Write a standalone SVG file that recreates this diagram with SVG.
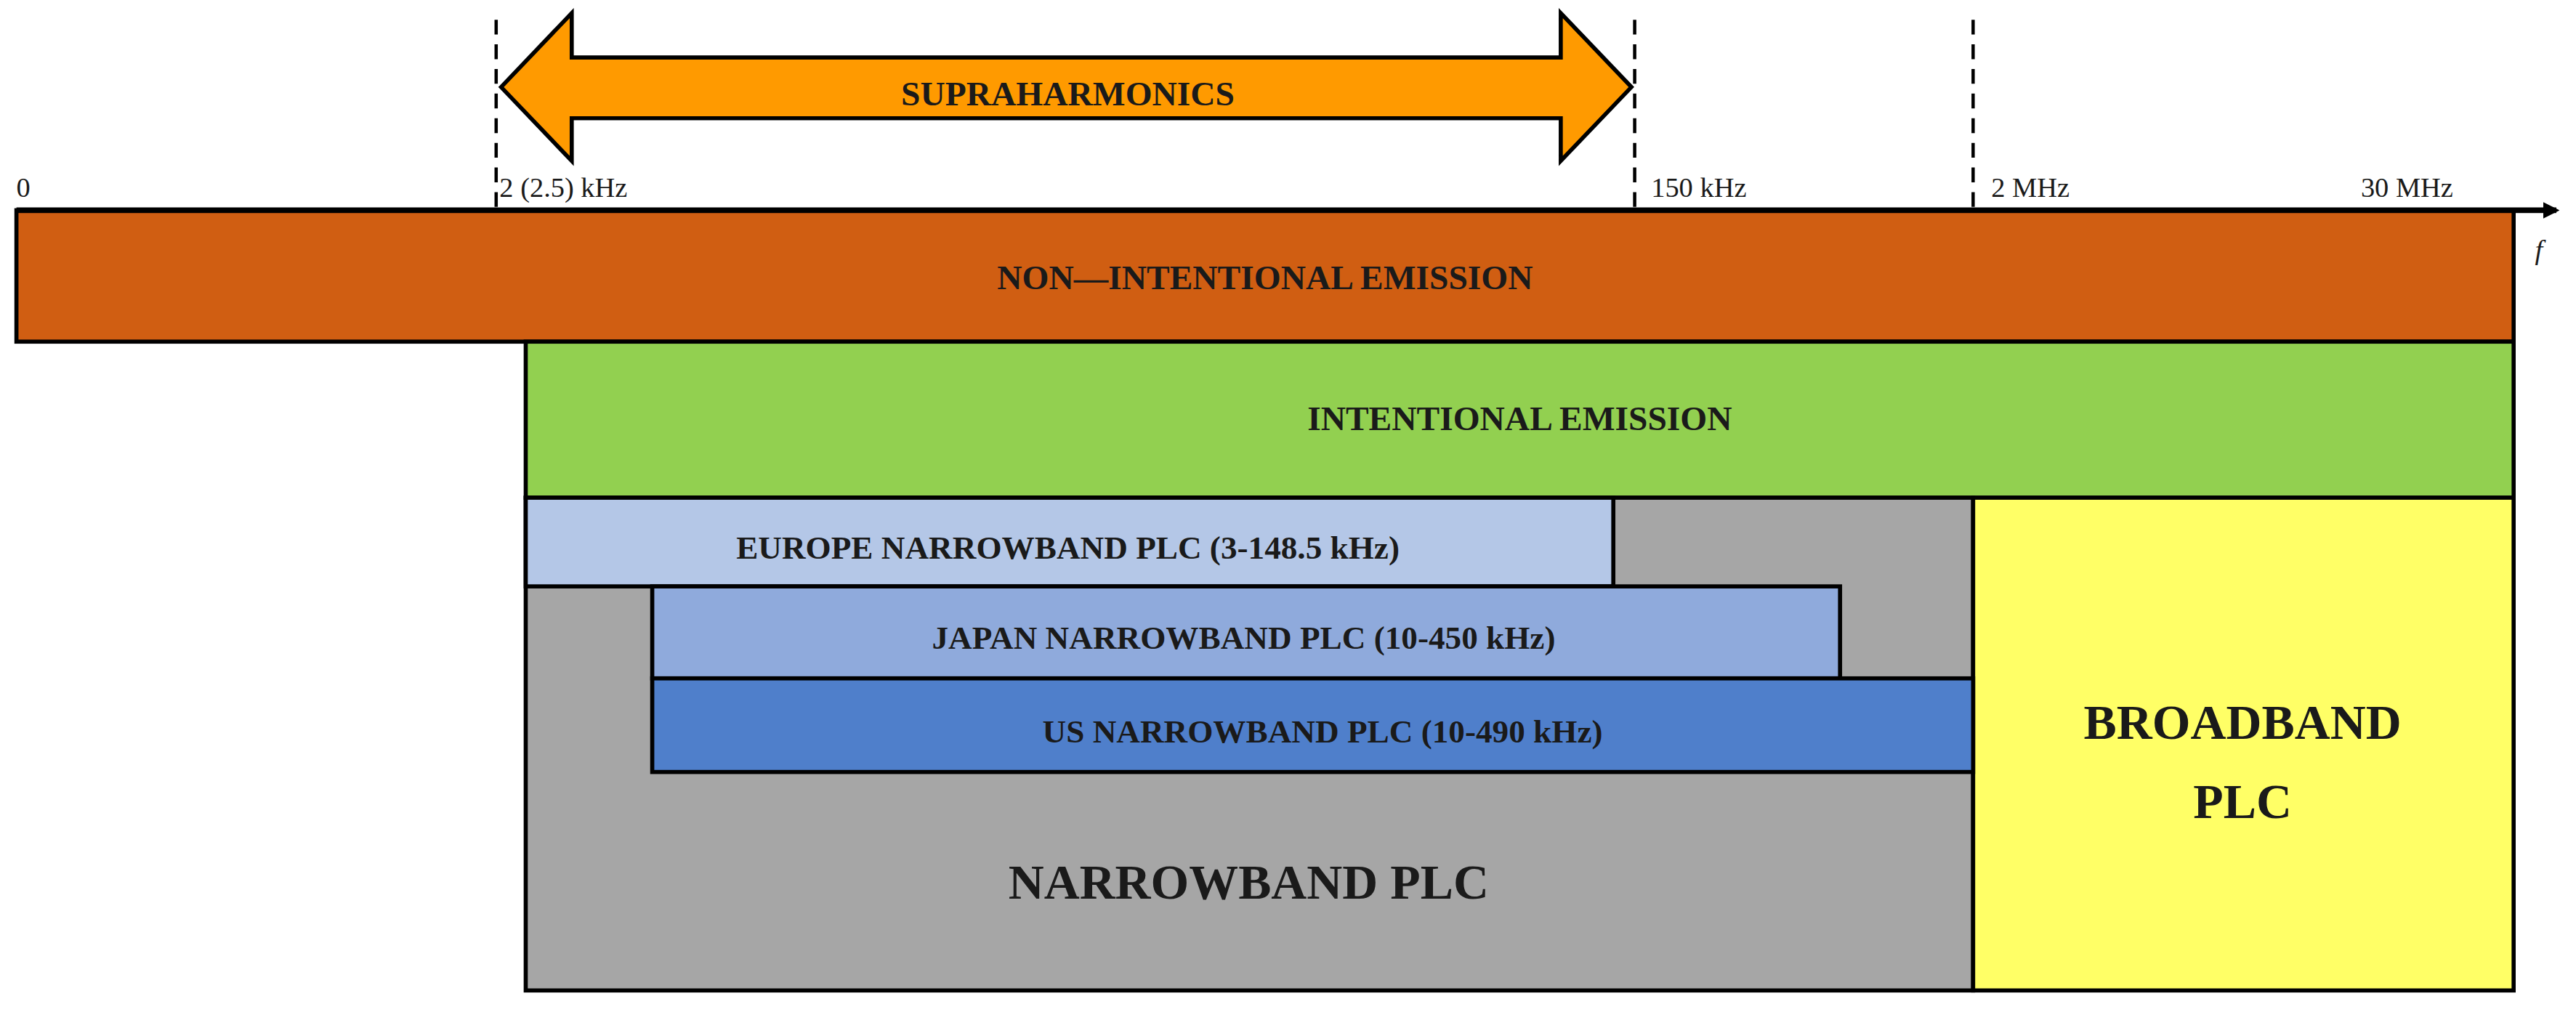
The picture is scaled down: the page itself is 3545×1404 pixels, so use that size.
<svg xmlns="http://www.w3.org/2000/svg" width="3545" height="1404" viewBox="0 0 3545 1404">
<style>
.b{stroke:#000;stroke-width:2.5}
.t{font-family:"Liberation Serif",serif;font-weight:bold;fill:#1a1a1a;text-anchor:middle}
.l{font-family:"Liberation Serif",serif;fill:#1a1a1a;font-size:17px}
.d{stroke:#000;stroke-width:2;stroke-dasharray:9,6;fill:none}
</style>
<defs><marker id="ah" markerWidth="10" markerHeight="10" refX="8" refY="5" orient="auto" markerUnits="userSpaceOnUse"><path d="M0,0 L10,5 L0,10 Z" fill="#000"/></marker></defs>
<rect width="3545" height="1404" fill="#fff"/>
<g transform="scale(2.2609)">
<g id="connectors">
<line class="d" x1="302" y1="12" x2="302" y2="128"/>
<line class="d" x1="995" y1="12" x2="995" y2="128"/>
<line class="d" x1="1201" y1="12" x2="1201" y2="128"/>
</g>
<g id="n-supra"><path d="M305,53 L348,8 L348,35 L950,35 L950,8 L993,53 L950,98 L950,72 L348,72 L348,98 Z" fill="#FF9A00" class="b"/>
<text class="t" x="650" y="64" font-size="21">SUPRAHARMONICS</text></g>
<g id="n-nonint"><rect x="10" y="128" width="1520" height="80" fill="#D05E12" class="b"/>
<text class="t" x="770" y="176" font-size="21">NON—INTENTIONAL EMISSION</text></g>
<g id="n-int"><rect x="320" y="208" width="1210" height="95" fill="#92D050" class="b"/>
<text class="t" x="925" y="262" font-size="21">INTENTIONAL EMISSION</text></g>
<g id="n-nb"><rect x="320" y="303" width="881" height="300" fill="#A6A6A6" class="b"/>
<text class="t" x="760" y="547" font-size="30">NARROWBAND PLC</text></g>
<g id="n-bb"><rect x="1201" y="303" width="329" height="300" fill="#FFFF66" class="b"/>
<text class="t" x="1365" y="450" font-size="30">BROADBAND</text><text class="t" x="1365" y="498" font-size="30">PLC</text></g>
<g id="n-eu"><rect x="320" y="303" width="662" height="54" fill="#B4C7E7" class="b"/>
<text class="t" x="650" y="340" font-size="20">EUROPE NARROWBAND PLC (3-148.5 kHz)</text></g>
<g id="n-jp"><rect x="397" y="357" width="723" height="56" fill="#8FAADC" class="b"/>
<text class="t" x="757" y="395" font-size="20">JAPAN NARROWBAND PLC (10-450 kHz)</text></g>
<g id="n-us"><rect x="397" y="413" width="804" height="57" fill="#4F7FCB" class="b"/>
<text class="t" x="805" y="452" font-size="20">US NARROWBAND PLC (10-490 kHz)</text></g>
<g id="axis">
<line x1="10" y1="128" x2="1556" y2="128" stroke="#000" stroke-width="3.5" marker-end="url(#ah)"/>
<text class="l" x="10" y="120">0</text>
<text class="l" x="304" y="120">2 (2.5) kHz</text>
<text class="l" x="1005" y="120">150 kHz</text>
<text class="l" x="1212" y="120">2 MHz</text>
<text class="l" x="1437" y="120">30 MHz</text>
<text class="l" x="1543" y="158" font-style="italic">f</text>
</g>
</g>
</svg>
